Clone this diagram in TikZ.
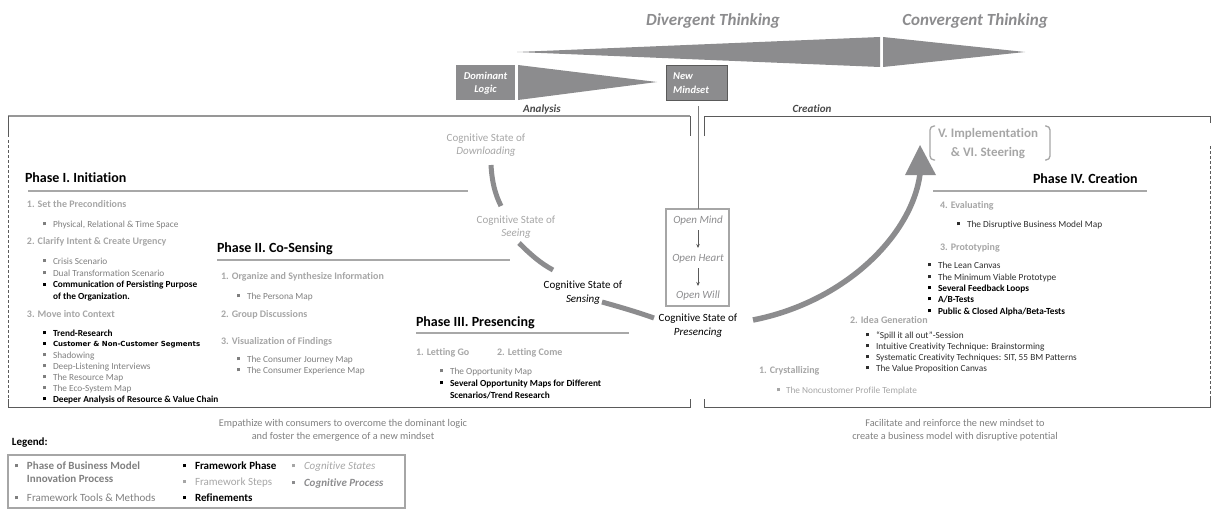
\documentclass[tikz,border=0pt]{standalone}
\usepackage{fontspec}
\setmainfont{Carlito}[Ligatures=NoCommon]
\newfontfamily\segfont{DejaVu Sans}
\usetikzlibrary{arrows.meta}

\definecolor{lgray}{HTML}{A6A6A6}
\definecolor{mgray}{HTML}{7F7F7F}
\definecolor{dgray}{HTML}{2E2E2E}
\definecolor{fillgray}{HTML}{8C8C8E}
\definecolor{linegray}{HTML}{5A5A5A}
\definecolor{rulegray}{HTML}{A8A8A8}

\newcommand\fsz[1]{\fontsize{#1}{#1}\selectfont}
% square list bullet followed by the item text
\newcommand\bu[1][10pt]{\makebox[#1][l]{\rule[1.7pt]{2.9pt}{2.9pt}}}

\tikzset{
  t/.style={inner sep=0pt, outer sep=0pt, anchor=base west},
  tc/.style={inner sep=0pt, outer sep=0pt, anchor=base},
  phase/.style={t, font=\fsz{14}\bfseries, text=black},
  stephd/.style={t, font=\fsz{10}\bfseries, text=lgray},
  tool/.style={t, font=\fsz{9.3}, text=mgray},
  toold/.style={t, font=\fsz{9.3}, text=dgray},
  toollt/.style={t, font=\fsz{9.3}, text=lgray},
  refine/.style={t, font=\fsz{9.3}\bfseries, text=black},
  cogl/.style={tc, font=\fsz{11}, text=lgray},
  cogd/.style={tc, font=\fsz{11}, text=black},
  openst/.style={tc, font=\fsz{11}\itshape, text=fillgray},
  think/.style={tc, font=\fsz{17}\bfseries\itshape, text=fillgray},
  stage/.style={tc, font=\fsz{11}\bfseries\itshape, text=linegray!80!black},
  boxtxt/.style={font=\fontsize{10.5}{13.5}\selectfont\bfseries\itshape, text=white},
  note/.style={tc, font=\fsz{10.3}, text=mgray},
  phrule/.style={draw=rulegray, line width=1.5pt},
  ucurve/.style={draw=fillgray, line width=5pt},
  frame/.style={draw=linegray, line width=1pt},
  dframe/.style={draw=linegray, line width=0.8pt, dash pattern=on 3pt off 2pt},
  leg/.style={t, font=\fsz{11}},
}

\begin{document}
\begin{tikzpicture}[x=1pt,y=-1pt]
\useasboundingbox (0,0) rectangle (1213,511);

% ---------- thinking modes ----------
\node[think] (div) at (713,26) {Divergent Thinking};
\node[think] (conv) at (975,26) {Convergent Thinking};
\fill[fillgray] (517,52) -- (880,37) -- (880,67) -- cycle;
\fill[fillgray] (883,37) -- (1025,52) -- (883,67) -- cycle;

% ---------- analysis strip ----------
\fill[fillgray] (456,65) rectangle (515,100);
\node[boxtxt, align=center, inner sep=0pt] (dom) at (485.5,83) {Dominant\\Logic};
\fill[fillgray] (518,65) -- (657,82) -- (518,100) -- cycle;
\filldraw[fill=fillgray, draw=linegray, line width=0.9pt] (666,65) rectangle (727,100);
\node[boxtxt, align=left, inner sep=0pt, anchor=west] (newm) at (673,83) {New\\Mindset};
\node[stage] (ana) at (542,112) {Analysis};
\node[stage] (cre) at (812,112) {Creation};

% ---------- frames ----------
\draw[draw=rulegray!90!black, line width=1.5pt] (8,116) -- (690,116);
\draw[frame] (690,116) -- (690,136);
\draw[frame] (8,116) -- (8,137);
\draw[dframe] (8,140) -- (8,399);
\draw[frame] (8,399) -- (8,407) -- (690,407) -- (690,399);

\draw[frame] (704,136) -- (704,116) -- (1210,116) -- (1210,123);
\draw[dframe] (1210,146) -- (1210,399);
\draw[frame] (704,399) -- (704,407) -- (1210,407) -- (1210,399);

% ---------- open mind / heart / will ----------
\draw[draw=lgray, line width=1.5pt] (666,209) rectangle (729,306);
\coordinate (vtop) at (698,106);
\coordinate (vbot) at (698,209);
\draw[draw=linegray!80, line width=1pt] (vtop) -- (vbot);
\node[openst] (om) at (698,223) {Open Mind};
\node[openst] (oh) at (698,261) {Open Heart};
\node[openst] (ow) at (698,298) {Open Will};
\draw[-{Stealth[length=4pt,width=3.5pt]}, linegray, line width=0.8pt] (698,230) -- (698,248);
\draw[-{Stealth[length=4pt,width=3.5pt]}, linegray, line width=0.8pt] (698,268) -- (698,286);

% ---------- cognitive states ----------
\node[cogl] (dl1) at (486,141) {Cognitive State of};
\node[cogl] (dl2) at (486,154) {\itshape Downloading};
\node[cogl] (se1) at (516,223) {Cognitive State of};
\node[cogl] (se2) at (516,236) {\itshape Seeing};
\node[cogd] (sn1) at (583,288) {Cognitive State of};
\node[cogd] (sn2) at (583,302) {\itshape Sensing};
\node[cogd] (pr1) at (698,321) {Cognitive State of};
\node[cogd] (pr2) at (698,335) {\itshape Presencing};

\coordinate (u1a) at (491,165); \coordinate (u1b) at (501,206);
\coordinate (u2a) at (519,243); \coordinate (u2b) at (553,270);
\coordinate (u3a) at (602,302); \coordinate (u3b) at (654,318);
\coordinate (u4a) at (753,320); \coordinate (u4b) at (920,174);
\draw[ucurve] (u1a) .. controls (492,182) and (495,194) .. (u1b);
\draw[ucurve] (u2a) .. controls (530,254) and (540,263) .. (u2b);
\draw[ucurve] (u3a) .. controls (620,307) and (637,312) .. (u3b);
\draw[ucurve, line width=5.5pt] (u4a) .. controls (845,302) and (912,235) .. (u4b);
\fill[fillgray] (905,175) -- (920,145) -- (936,175) -- cycle;

% ---------- Phase I ----------
\node[phase] (p1) at (25,182.6) {Phase I. Initiation};
\draw[phrule] (28,191) -- (468,191);
\node[stephd] (s11) at (27,207.3) {1. Set the Preconditions};
\node[tool] (t11) at (43,227) {\bu Physical, Relational \& Time Space};
\node[stephd] (s12) at (27,244.3) {2. Clarify Intent \& Create Urgency};
\node[tool] (t12) at (43,264) {\bu Crisis Scenario};
\node[tool] (t13) at (43,276) {\bu Dual Transformation Scenario};
\node[refine] (r11) at (43,287.5) {\bu Communication of Persisting Purpose};
\node[refine] (r12) at (53,299) {of the Organization.};
\node[stephd] (s13) at (27,317.3) {3. Move into Context};
\node[refine] (r13) at (43,336) {\bu Trend-Research};
\node[t, font=\fsz{7}\segfont\bfseries] (r14) at (43,346.5) {\bu Customer \& Non-Customer Segments};
\node[tool] (t14) at (43,358) {\bu Shadowing};
\node[tool] (t15) at (43,369) {\bu Deep-Listening Interviews};
\node[tool] (t16) at (43,380) {\bu The Resource Map};
\node[tool] (t17) at (43,391) {\bu The Eco-System Map};
\node[refine] (r15) at (43,402) {\bu Deeper Analysis of Resource \& Value Chain};

% ---------- Phase II ----------
\node[phase] (p2) at (217,252.6) {Phase II. Co-Sensing};
\draw[phrule] (217,260) -- (510,260);
\node[stephd] (s21) at (221,279.3) {1. Organize and Synthesize Information};
\node[tool] (t21) at (237,299) {\bu The Persona Map};
\node[stephd] (s22) at (221,317.3) {2. Group Discussions};
\node[stephd] (s23) at (221,344.3) {3. Visualization of Findings};
\node[tool] (t22) at (237,362) {\bu The Consumer Journey Map};
\node[tool] (t23) at (237,373) {\bu The Consumer Experience Map};

% ---------- Phase III ----------
\node[phase] (p3) at (416,326.6) {Phase III. Presencing};
\draw[phrule] (416,333) -- (629,333);
\node[stephd] (s31) at (416,355.3) {1. Letting Go};
\node[stephd] (s32) at (497,355.3) {2. Letting Come};
\node[tool] (t31) at (440,374) {\bu The Opportunity Map};
\node[refine] (r31) at (440,386) {\bu Several Opportunity Maps for Different};
\node[refine] (r32) at (450,398) {Scenarios/Trend Research};

% ---------- Phase IV ----------
\draw[draw=lgray, line width=1.3pt, rounded corners=4pt] (935,126) -- (930,126) -- (930,160) -- (935,160);
\draw[draw=lgray, line width=1.3pt, rounded corners=4pt] (1045,126) -- (1050,126) -- (1050,160) -- (1045,160);
\node[tc, font=\fsz{13}\bfseries, text=lgray] (impl1) at (988,137.5) {V. Implementation};
\node[tc, font=\fsz{13}\bfseries, text=lgray] (impl2) at (988,156.5) {\& VI. Steering};

\node[phase] (p4) at (1033,183.6) {Phase IV. Creation};
\draw[phrule] (933,191) -- (1147,191);
\node[stephd] (s44) at (940,208.3) {4. Evaluating};
\node[toold] (t41) at (957,227) {\bu The Disruptive Business Model Map};
\node[stephd] (s43) at (940,250.3) {3. Prototyping};
\node[toold] (t42) at (928,268) {\bu The Lean Canvas};
\node[toold] (t43) at (928,280) {\bu The Minimum Viable Prototype};
\node[refine] (r41) at (928,291) {\bu Several Feedback Loops};
\node[refine] (r42) at (928,302) {\bu A/B-Tests};
\node[refine] (r43) at (928,314) {\bu Public \& Closed Alpha/Beta-Tests};
\node[stephd] (s42) at (850,323.3) {2. Idea Generation};
\node[toold] (t44) at (866,338) {\bu “Spill it all out”-Session};
\node[toold] (t45) at (866,349) {\bu Intuitive Creativity Technique: Brainstorming};
\node[toold] (t46) at (866,360) {\bu Systematic Creativity Techniques: SIT, 55 BM Patterns};
\node[toold] (t47) at (866,371) {\bu The Value Proposition Canvas};
\node[stephd] (s41) at (759,373.3) {1. Crystallizing};
\node[toollt] (t48) at (777,393) {\bu[9pt]The Noncustomer Profile Template};

% ---------- aims ----------
\node[note] (aim1a) at (343,426.5) {Empathize with consumers to overcome the dominant logic};
\node[note] (aim1b) at (343,439.5) {and foster the emergence of a new mindset};
\node[note] (aim2a) at (955,426.5) {Facilitate and reinforce the new mindset to};
\node[note] (aim2b) at (955,439.5) {create a business model with disruptive potential};

% ---------- legend ----------
\node[leg, font=\fsz{11}\bfseries] (legt) at (12,445) {Legend:};
\draw[draw=lgray, line width=1.2pt] (8,455) rectangle (405,508);
\node[leg, font=\fsz{11}\bfseries, text=mgray] (l1) at (15,469) {\bu[12pt]Phase of Business Model};
\node[leg, font=\fsz{11}\bfseries, text=mgray] (l1b) at (27,482) {Innovation Process};
\node[leg, text=mgray] (l2) at (15,501) {\bu[12pt]Framework Tools \& Methods};
\node[leg, font=\fsz{11}\bfseries, text=black] (l3) at (183,469) {\bu[12pt]Framework Phase};
\node[leg, font=\fsz{11}, text=lgray] (l4) at (183,485) {\bu[12pt]Framework Steps};
\node[leg, font=\fsz{11}\bfseries, text=black] (l5) at (183,501) {\bu[12pt]Refinements};
\node[leg, font=\fsz{11}\itshape, text=lgray] (l6) at (292,469) {\bu[12pt]Cognitive States};
\node[leg, font=\fsz{11}\bfseries\itshape, text=fillgray] (l7) at (292,486) {\bu[12pt]Cognitive Process};
\end{tikzpicture}
\end{document}
